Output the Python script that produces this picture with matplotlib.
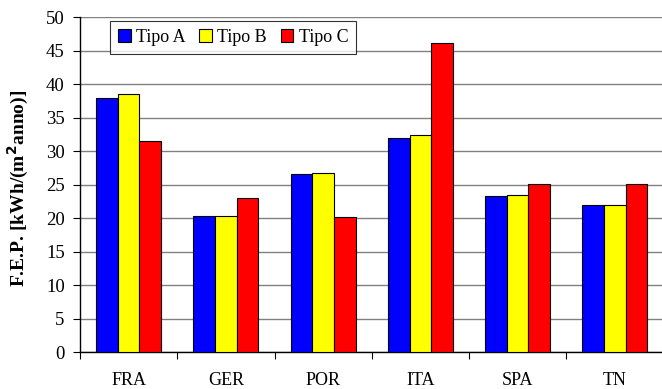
import matplotlib
matplotlib.use("Agg")
import matplotlib.pyplot as plt
from matplotlib.patches import Patch
import numpy as np

categories = ["FRA", "GER", "POR", "ITA", "SPA", "TN"]
series_names = ["Tipo A", "Tipo B", "Tipo C"]
tipo_a = [37.9, 20.3, 26.6, 32.0, 23.4, 22.0]
tipo_b = [38.5, 20.3, 26.7, 32.5, 23.5, 22.0]
tipo_c = [31.6, 23.0, 20.2, 46.1, 25.1, 25.1]
colors = ["#0000FF", "#FFFF00", "#FF0000"]
y_ticks = list(range(0, 55, 5))

plt.rcParams["font.family"] = ["Liberation Serif", "DejaVu Serif"]

fig = plt.figure(figsize=(6.62, 3.89), dpi=100)
ax = fig.add_axes([80 / 662, 1 - 352.3 / 389, 583.5 / 662, (352.3 - 17.3) / 389])

x = np.arange(len(categories))
width = 0.223
for i, (vals, col) in enumerate(zip([tipo_a, tipo_b, tipo_c], colors)):
    ax.bar(x + (i - 1) * width, vals, width, color=col, edgecolor="black",
           linewidth=0.8, zorder=3)

ax.set_xlim(-0.5, len(categories) - 0.5)
ax.set_ylim(0, 50)
ax.set_yticks(y_ticks)
ax.yaxis.grid(True, color="#808080", linewidth=1.0, zorder=0)
ax.tick_params(axis="y", labelsize=13.5, length=5, width=0.8, pad=6, direction="out")

# category boundaries carry the ticks, labels sit at the centres
ax.set_xticks(np.arange(len(categories) + 1) - 0.5)
ax.set_xticklabels([])
ax.set_xticks(x, minor=True)
ax.set_xticklabels(categories, minor=True)
ax.tick_params(axis="x", which="major", length=5, width=0.8, direction="out")
ax.tick_params(axis="x", which="minor", length=0, labelsize=13, pad=14)

for side in ["top", "right"]:
    ax.spines[side].set_visible(False)
ax.spines["left"].set_linewidth(1.0)
ax.spines["bottom"].set_linewidth(1.0)

ax.set_ylabel("F.E.P. [kWh/(m$^\\mathbf{2}$anno)]", fontsize=14, fontweight="bold")
ax.yaxis.set_label_coords((31 - 80) / 583.5, 0.49)

handles = [Patch(facecolor=c, edgecolor="black", linewidth=0.8) for c in colors]
leg = ax.legend(handles, series_names, loc="upper left", ncol=3,
                bbox_to_anchor=((110 - 80) / 583.5, 1 - (21 - 17.3) / 335),
                borderaxespad=0, fontsize=13, frameon=True, fancybox=False,
                edgecolor="black", handlelength=0.7, handleheight=0.7,
                handletextpad=0.3, columnspacing=0.75, borderpad=0.45)
leg.get_frame().set_linewidth(0.8)

fig.savefig("out.png", dpi=100)
